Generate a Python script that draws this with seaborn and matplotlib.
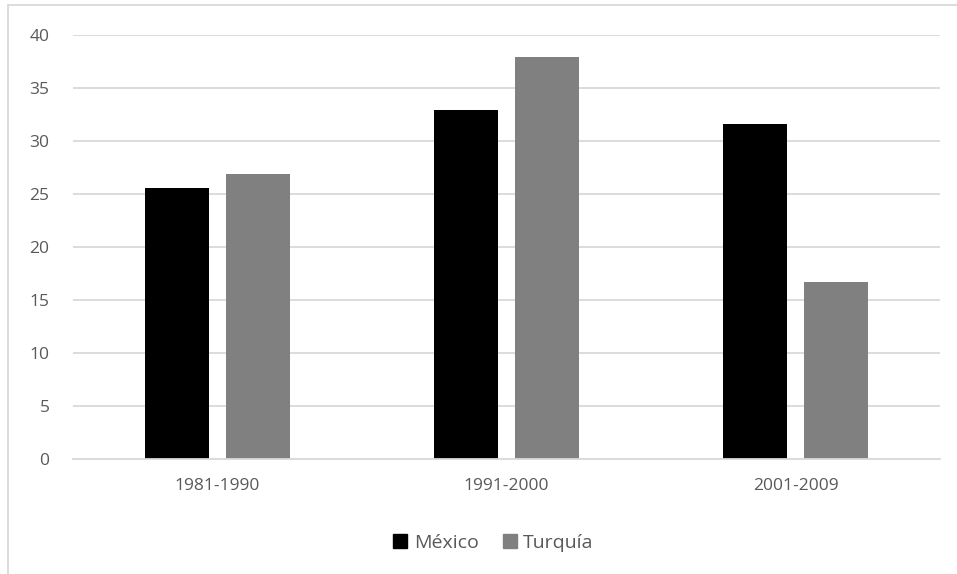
import matplotlib
matplotlib.use("Agg")
import matplotlib.pyplot as plt
import seaborn as sns
import pandas as pd
from matplotlib.patches import Rectangle
from matplotlib.lines import Line2D

periods = ["1981-1990", "1991-2000", "2001-2009"]
mexico = [25.6, 32.9, 31.6]
turquia = [26.9, 37.9, 16.7]
series_names = ["México", "Turquía"]
colors = ["#000000", "#808080"]

df = pd.DataFrame({
    "periodo": periods * 2,
    "valor": mexico + turquia,
    "pais": [series_names[0]] * 3 + [series_names[1]] * 3,
})

sns.set_theme(style="white")
plt.rcParams["font.family"] = ["Open Sans", "DejaVu Sans"]

fig = plt.figure(figsize=(9.57, 5.74), dpi=100)
ax = fig.add_axes([73 / 957, 1 - 459 / 574, (940 - 73) / 957, (459 - 35) / 574])

sns.barplot(data=df, x="periodo", y="valor", hue="pais", palette=colors,
            ax=ax, width=0.56, gap=0.21, saturation=1, legend=False,
            edgecolor="none")

ax.set_ylim(0, 40)
ax.set_yticks(range(0, 41, 5))
ax.set_xlim(-0.5, 2.5)
ax.yaxis.grid(True, color="#d9d9d9", linewidth=1.3)
ax.set_axisbelow(True)
for side in ["top", "right", "left"]:
    ax.spines[side].set_visible(False)
ax.spines["bottom"].set_color("#d9d9d9")
ax.spines["bottom"].set_linewidth(1.3)
ax.set_xlabel("")
ax.set_ylabel("")
ax.tick_params(axis="both", length=0, labelsize=12.5, labelcolor="#595959")
ax.tick_params(axis="y", pad=17)
ax.tick_params(axis="x", pad=14)

handles = [Line2D([0], [0], marker="s", linestyle="none", markersize=10,
                  markerfacecolor=c, markeredgecolor=c) for c in colors]
fig.legend(handles, series_names, loc="center", bbox_to_anchor=(493 / 957, 1 - 543 / 574),
           ncol=2, frameon=False, fontsize=14, labelcolor="#595959",
           handletextpad=0.3, columnspacing=1.2, handlelength=0.8)

# chart area border
fig.patches.append(Rectangle((8 / 957, -0.05), 1.2, 1 - 5 / 574 + 0.05,
                             transform=fig.transFigure, fill=False,
                             edgecolor="#d9d9d9", linewidth=1.3))

fig.savefig("out.png", dpi=100)
